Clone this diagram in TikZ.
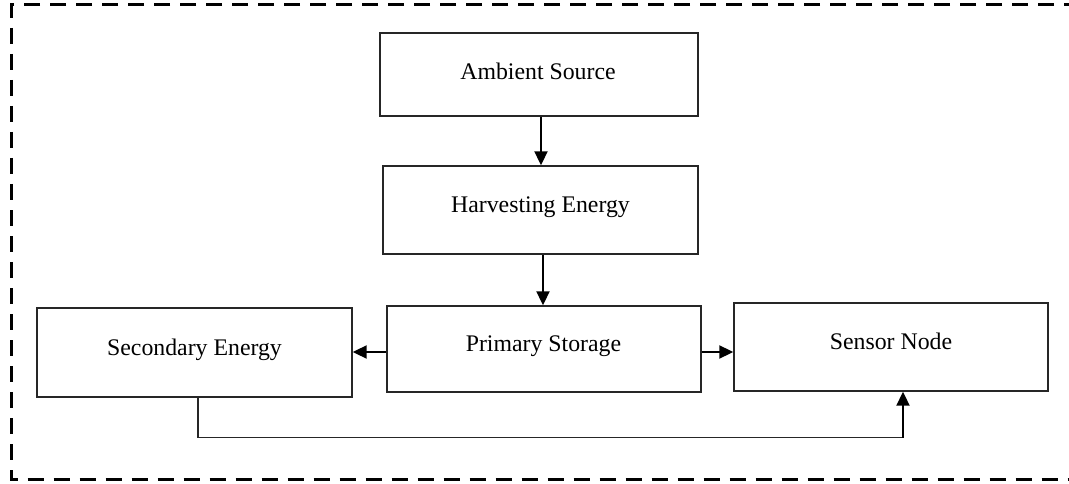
\documentclass[tikz,border=0pt]{standalone}
\usepackage{fontspec}
\setmainfont{Liberation Serif}
\usetikzlibrary{arrows.meta}
\begin{document}
\begin{tikzpicture}[x=1pt,y=-1pt,
  box/.style={draw=black!85,line width=1.4pt,rectangle,inner sep=0pt},
  lbl/.style={anchor=base,inner sep=0pt,font=\fontsize{23.8pt}{28pt}\selectfont},
  arr/.style={line width=2pt,-{Triangle[length=14pt,width=13pt]}},
  link/.style={line width=1.2pt,draw=black!85},
  frame/.style={line width=3pt,dash pattern=on 16pt off 10pt}]
\useasboundingbox (0,0) rectangle (1069,484);
\draw[frame] (1080,5) -- (11,5) -- (11,479.5) -- (1080,479.5);
% boxes
\node[box,minimum width=318pt,minimum height=83pt] (amb) at (539,74.5) {};
\node[box,minimum width=315pt,minimum height=88pt] (harv) at (540.5,210) {};
\node[box,minimum width=314pt,minimum height=86pt] (prim) at (544,349) {};
\node[box,minimum width=315pt,minimum height=89pt] (sec) at (194.5,352.5) {};
\node[box,minimum width=314pt,minimum height=88pt] (sen) at (891,347) {};
% labels
\node[lbl] (tamb) at (538,80) {Ambient Source};
\node[lbl] (tharv) at (540.5,212) {Harvesting Energy};
\node[lbl] (tprim) at (543.5,351) {Primary Storage};
\node[lbl] (tsec) at (194.5,355) {Secondary Energy};
\node[lbl] (tsen) at (891,349) {Sensor Node};
% arrows
\draw[arr] ([xshift=2pt]amb.south) -- ([xshift=0.5pt]harv.north);
\draw[arr] ([xshift=2.5pt]harv.south) -- ([xshift=-1pt]prim.north);
\draw[arr] ([yshift=-3pt]prim.west) -- ([yshift=0.5pt]sec.east);
\draw[arr] ([yshift=-3pt]prim.east) -- ([yshift=-5pt]sen.west);
\coordinate (bend) at (903,437.5);
\draw[link] ([xshift=3.5pt]sec.south) |- (bend);
\draw[arr] (bend) -- (bend |- sen.south);
\end{tikzpicture}
\end{document}
